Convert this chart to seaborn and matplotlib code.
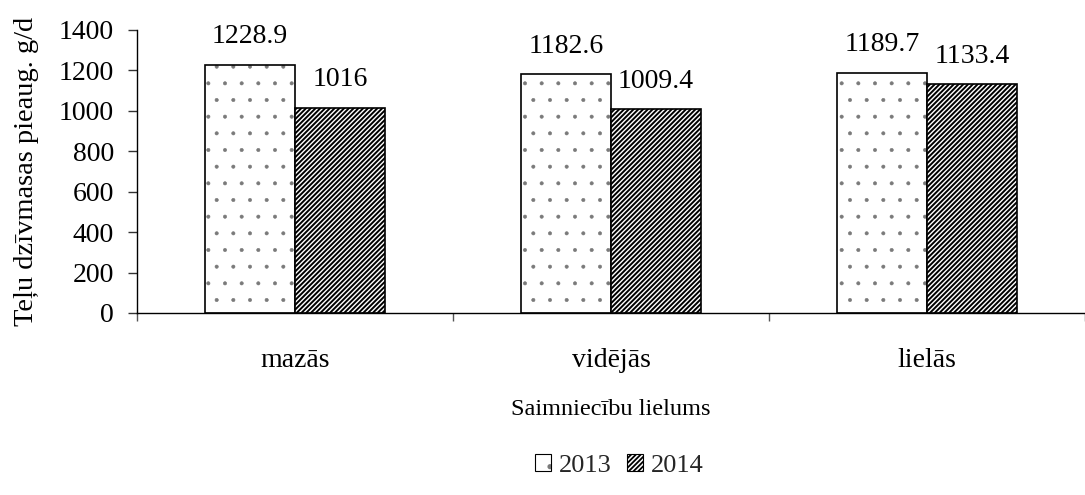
import matplotlib
matplotlib.use("Agg")
import matplotlib.pyplot as plt
from matplotlib.colors import to_rgba
from matplotlib.patches import Patch
import seaborn as sns
import pandas as pd

# Farm size groups and average daily weight gain of calves (g/d)
categories = ["mazās", "vidējās", "lielās"]
years = ["2013", "2014"]
values_2013 = [1228.9, 1182.6, 1189.7]
values_2014 = [1016, 1009.4, 1133.4]
y_ticks = [0, 200, 400, 600, 800, 1000, 1200, 1400]

df = pd.DataFrame({
    "size": categories * 2,
    "year": [years[0]] * len(categories) + [years[1]] * len(categories),
    "value": values_2013 + values_2014,
})

sns.set_theme(style="white")
plt.rcParams["font.family"] = ["Liberation Serif", "DejaVu Serif"]
plt.rcParams["hatch.linewidth"] = 1.3
plt.rcParams["axes.linewidth"] = 1.0

fig = plt.figure(figsize=(10.85, 4.95), dpi=100)
ax = fig.add_axes([0.1263, 0.3677, 0.8737, 0.5717])

sns.barplot(
    data=df, x="size", y="value", hue="year",
    order=categories, hue_order=years,
    palette=["white", "white"], saturation=1,
    width=0.57, edgecolor="black", linewidth=1.2,
    legend=False, ax=ax,
)

hatches = [".", "///////"]
hatch_colors = ["#7a7a7a", "black"]
hatch_widths = [0.4, 1.4]


def style_hatch(patch, hatch, color, width):
    patch.set_hatch(hatch)
    if hasattr(patch, "set_hatchcolor"):
        patch.set_hatchcolor(color)
    else:
        patch._hatch_color = to_rgba(color)
    if hasattr(patch, "set_hatch_linewidth"):
        patch.set_hatch_linewidth(width)
    else:
        patch._hatch_linewidth = width


for container, hatch, hc, hw in zip(ax.containers, hatches, hatch_colors, hatch_widths):
    for bar in container:
        style_hatch(bar, hatch, hc, hw)
    ax.bar_label(container, fmt="{:g}", padding=11, fontsize=20, color="black")

ax.set_ylim(0, 1400)
ax.set_yticks(y_ticks)
ax.set_xlim(-0.5, 2.48)
ax.set_xticks(range(len(categories)))
ax.set_xticklabels(categories)
ax.set_xticks([-0.5, 0.5, 1.5, 2.5], minor=True)

ax.tick_params(axis="x", which="major", length=0, pad=25, labelsize=20, colors="black")
ax.tick_params(axis="x", which="minor", length=6, width=1, color="#555555", direction="out", bottom=True)
ax.tick_params(axis="y", length=6.5, width=1, color="#333333", direction="out", left=True, pad=10,
               labelsize=20, labelcolor="black")

for side in ["top", "right"]:
    ax.spines[side].set_visible(False)
for side in ["left", "bottom"]:
    ax.spines[side].set_color("black")

ax.set_ylabel("Teļu dzīvmasas pieaug. g/d", fontsize=20.5, labelpad=14, color="black")
ax.set_xlabel("Saimniecību lielums", fontsize=17.5, labelpad=19, color="black")

handles = []
for hatch, hc, hw in zip(hatches, hatch_colors, hatch_widths):
    h = Patch(facecolor="white", edgecolor="black", linewidth=0.8)
    style_hatch(h, hatch, hc, hw)
    handles.append(h)
fig.legend(handles, years, loc="center", bbox_to_anchor=(0.571, 0.06), ncol=2, frameon=False,
           fontsize=19, handlelength=0.6, handleheight=0.6, handletextpad=0.3, columnspacing=0.6)

fig.savefig("out.png", dpi=100)
